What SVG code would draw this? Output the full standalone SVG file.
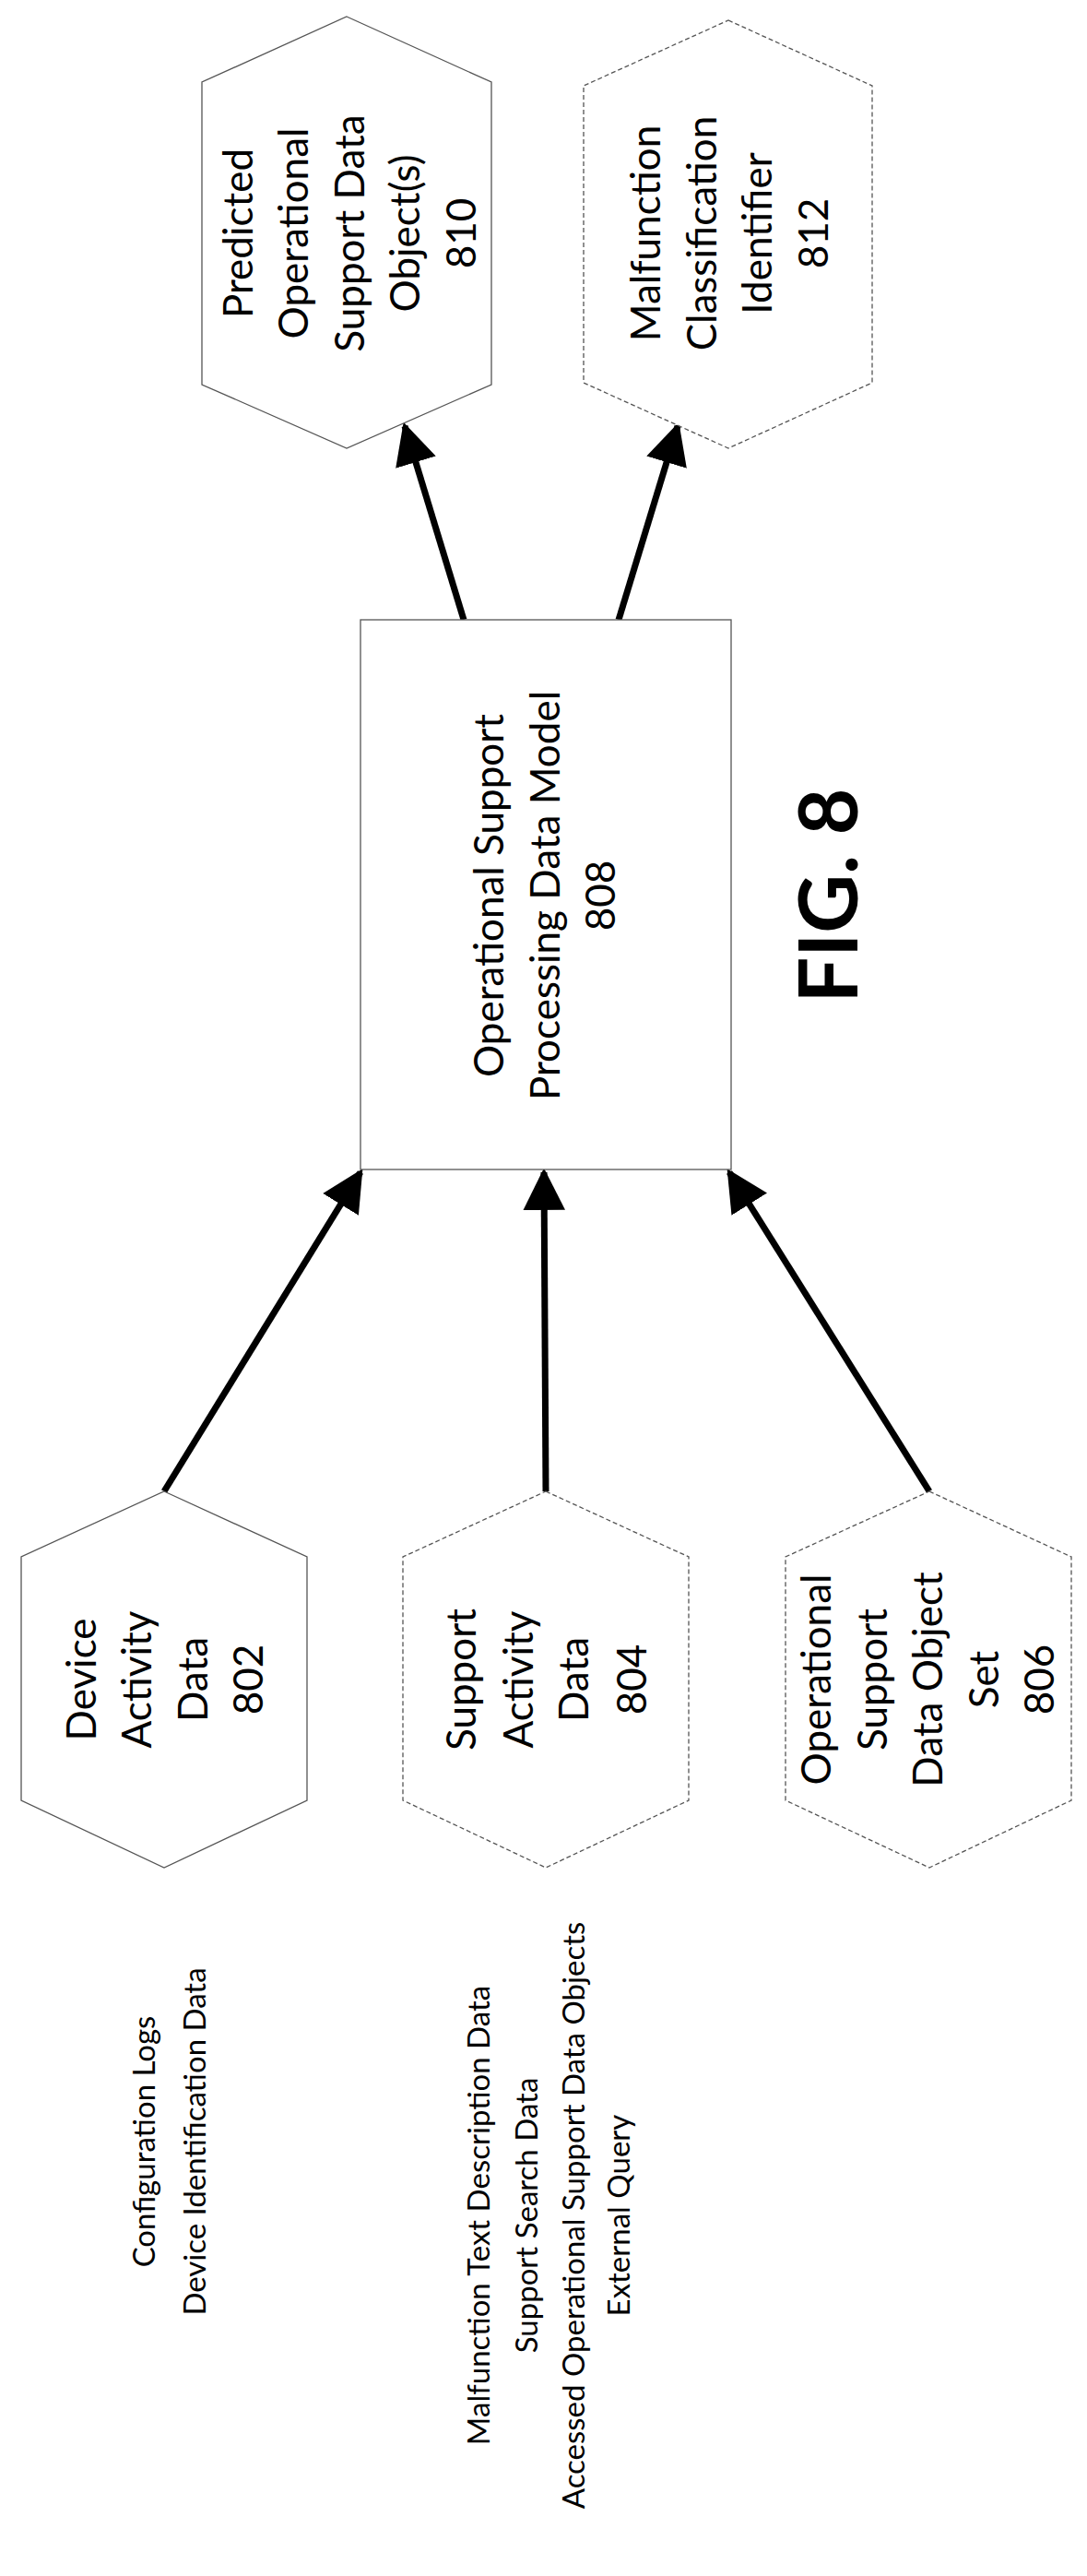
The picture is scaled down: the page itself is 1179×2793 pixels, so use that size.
<svg xmlns="http://www.w3.org/2000/svg" width="1179" height="2793" viewBox="0 0 1179 2793">
<style>
.n{fill:#fff;stroke:#555;stroke-width:1.3}
.d{stroke-dasharray:5 3}
text{font-family:Lato,"Liberation Sans",sans-serif;fill:#000;text-anchor:middle;dominant-baseline:central}
.t{font-size:44px}
.s{font-size:33px}
.c{stroke:#000;stroke-width:7;fill:none;marker-end:url(#a)}
</style>
<defs><marker id="a" viewBox="0 0 10 10" refX="9" refY="5" markerWidth="6.5" markerHeight="6.5" markerUnits="strokeWidth" orient="auto"><path d="M0,0L10,5L0,10z" fill="#000"/></marker></defs>
<g id="connectors">
<line class="c" x1="178" y1="1617" x2="391" y2="1271"/>
<line class="c" x1="592" y1="1617" x2="590" y2="1271"/>
<line class="c" x1="1008" y1="1617" x2="791" y2="1271"/>
<line class="c" x1="503" y1="672" x2="439" y2="462"/>
<line class="c" x1="671" y1="672" x2="735" y2="462"/>
</g>
<g id="n810"><polygon class="n" points="376,18 533,89 533,417 376,486 219,417 219,89"/>
<text class="t" transform="translate(257,253) rotate(-90)">Predicted</text>
<text class="t" transform="translate(317,253) rotate(-90)">Operational</text>
<text class="t" transform="translate(378,253) rotate(-90)">Support Data</text>
<text class="t" transform="translate(438,253) rotate(-90)">Object(s)</text>
<text class="t" transform="translate(499,253) rotate(-90)">810</text></g>
<g id="n812"><polygon class="n d" points="790,22 946,93 946,415 790,486 633,415 633,93"/>
<text class="t" transform="translate(699,253) rotate(-90)">Malfunction</text>
<text class="t" transform="translate(760,253) rotate(-90)">Classification</text>
<text class="t" transform="translate(820,253) rotate(-90)">Identifier</text>
<text class="t" transform="translate(881,253) rotate(-90)">812</text></g>
<g id="n808"><rect class="n" x="391" y="672" width="402" height="596"/>
<text class="t" transform="translate(529,971) rotate(-90)">Operational Support</text>
<text class="t" transform="translate(590,971) rotate(-90)">Processing Data Model</text>
<text class="t" transform="translate(650,971) rotate(-90)">808</text></g>
<g id="fig"><text transform="translate(896,971) rotate(-90)" style="font-size:88px;font-weight:bold">FIG. 8</text></g>
<g id="n802"><polygon class="n" points="178,1617 333,1688 333,1952 178,2025 23,1952 23,1688"/>
<text class="t" transform="translate(87,1821) rotate(-90)">Device</text>
<text class="t" transform="translate(147,1821) rotate(-90)">Activity</text>
<text class="t" transform="translate(208,1821) rotate(-90)">Data</text>
<text class="t" transform="translate(268,1821) rotate(-90)">802</text></g>
<g id="n804"><polygon class="n d" points="592,1617 747,1688 747,1952 592,2025 437,1952 437,1688"/>
<text class="t" transform="translate(499,1821) rotate(-90)">Support</text>
<text class="t" transform="translate(561,1821) rotate(-90)">Activity</text>
<text class="t" transform="translate(621,1821) rotate(-90)">Data</text>
<text class="t" transform="translate(684,1821) rotate(-90)">804</text></g>
<g id="n806"><polygon class="n d" points="1008,1617 1162,1688 1162,1952 1008,2025 852,1952 852,1688"/>
<text class="t" transform="translate(884,1821) rotate(-90)">Operational</text>
<text class="t" transform="translate(945,1821) rotate(-90)">Support</text>
<text class="t" transform="translate(1005,1821) rotate(-90)">Data Object</text>
<text class="t" transform="translate(1066,1821) rotate(-90)">Set</text>
<text class="t" transform="translate(1126,1821) rotate(-90)">806</text></g>
<g id="l802">
<text class="s" transform="translate(155,2322) rotate(-90)">Configuration Logs</text>
<text class="s" transform="translate(210,2322) rotate(-90)">Device Identification Data</text></g>
<g id="l804">
<text class="s" transform="translate(518,2402) rotate(-90)">Malfunction Text Description Data</text>
<text class="s" transform="translate(570,2402) rotate(-90)">Support Search Data</text>
<text class="s" transform="translate(621,2402) rotate(-90)">Accessed Operational Support Data Objects</text>
<text class="s" transform="translate(670,2402) rotate(-90)">External Query</text></g>
</svg>
